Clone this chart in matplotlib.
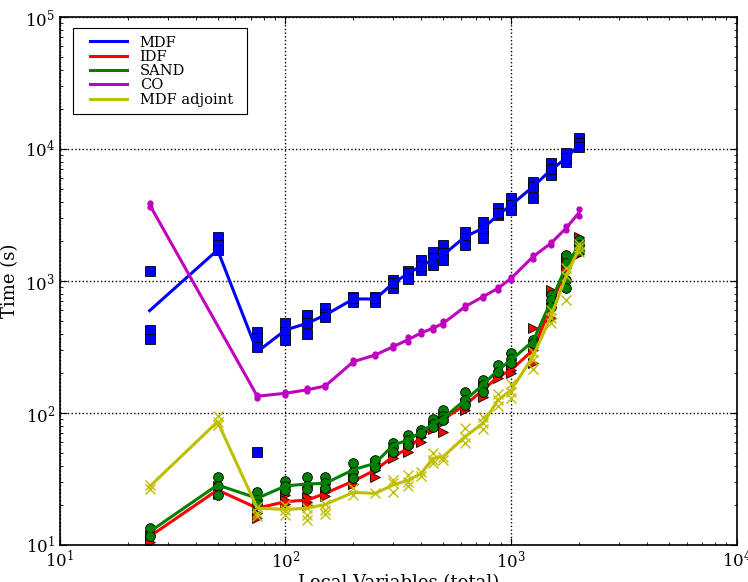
import matplotlib
matplotlib.use("Agg")
import matplotlib.pyplot as plt
from matplotlib.legend_handler import HandlerLine2D
from matplotlib.lines import Line2D
import numpy as np

plt.rcParams['font.family'] = 'DejaVu Serif'
plt.rcParams['mathtext.fontset'] = 'dejavuserif'
plt.rcParams['xtick.direction'] = 'in'
plt.rcParams['ytick.direction'] = 'in'

# local variables (total)
x_all = [25, 50, 75, 100, 125, 150, 200, 250, 300, 350, 400, 450, 500,
         625, 750, 875, 1000, 1250, 1500, 1750, 2000]
x_co = [25, 75, 100, 125, 150, 200, 250, 300, 350, 400, 450, 500,
        625, 750, 875, 1000, 1250, 1500, 1750, 2000]

# mean time (line) per architecture
mdf_mean = [596, 1718, 291, 425, 479, 552, 731, 731, 961, 1143, 1306, 1443, 1574,
            2166, 2508, 3162, 3766, 5176, 6935, 8506, 10720]
idf_mean = [11.6, 26.1, 19, 21.3, 21.9, 24.6, 30.5, 37, 46.7, 54, 66.2, 78.8, 89.6,
            115, 149, 188, 212, 300, 639, 1248, 1820]
sand_mean = [12.6, 28.5, 22.6, 28, 29, 29.3, 37.2, 41.6, 57.2, 62.4, 72.2, 82.6, 91.2,
             125.5, 163, 212, 252, 350, 697, 1283, 1874]
co_mean = [3780, 134, 141, 150, 160, 245, 275, 318, 360, 405, 438, 478,
           639, 760, 881, 1048, 1528, 1931, 2507, 3300]
adj_mean = [27.7, 85.9, 19, 18.6, 19, 20.3, 25, 24.6, 28.5, 31, 34.9, 45.4, 46.7,
            66.2, 83.6, 125.5, 149, 268, 537, 1079, 1770]

# individual runs (markers)
mdf_runs = [[1200, 425, 364], [2140, 1870, 1720], [413, 368, 318, 51], [479, 413, 357],
            [550, 480, 395], [620, 560, 530], [757, 693, 740], [757, 693, 740],
            [1018, 885, 960], [1200, 1140, 1040], [1443, 1212, 1300], [1660, 1493, 1321],
            [1874, 1630, 1443], [2350, 2118, 1874], [2799, 2433, 2118], [3573, 3162, 3300],
            [4253, 3764, 3451], [5623, 5152, 4253], [7834, 6353, 7000], [9330, 7980, 8500],
            [12110, 11100, 10360]]
idf_runs = [[11.8, 10.6], [28, 25, 24.5], [19.5, 17.5, 16], [24, 22, 20.5], [23, 21, 20],
            [25, 23.5], [33, 31, 29], [42, 37, 33], [45.5, 48], [55.5, 50.9], [66, 60],
            [80, 76], [95, 85, 72], [120, 105], [160, 150, 132], [195, 183],
            [225, 212, 200], [438, 300, 240], [855, 640, 520], [1490, 1250, 1000],
            [2170, 1870, 1600]]
sand_runs = [[13.4, 11.6], [32.9, 28, 23.9], [25.3, 21.9, 20.6], [30.5, 28, 26.1],
             [32.7, 27.8, 26.5], [32.9, 29.5, 26.8], [41.6, 35.9, 32], [44, 39.1],
             [59.6, 55, 50.9], [68.1, 62, 57.2], [74.3, 70.5], [89.6, 82, 77.9],
             [105, 95, 88.5], [145, 125.5, 115], [178, 163, 145], [231, 205.5],
             [283, 255, 238], [357, 340], [783, 718, 639], [1574, 1361, 1018, 881],
             [2045, 1874, 1700]]
co_runs = [[3880, 3660], [138, 131], [145, 137], [155, 146], [164, 157], [250, 240],
           [280, 270], [330, 308], [375, 345], [415, 395], [448, 428], [495, 462],
           [655, 625], [775, 745], [905, 860], [1070, 1025], [1580, 1480], [1990, 1880],
           [2600, 2420], [3500, 3100]]
adj_runs = [[28.5, 26.5], [95, 86, 81], [19.5, 17.5, 16.5], [20, 18.5, 17], [19, 17, 15.5],
            [20.5, 18.5, 17.3], [27, 24], [24.6], [29.5, 25.4, 31], [34, 30.2, 28],
            [36, 33.5], [50, 44.4, 42], [46.7, 44], [77, 59.4, 66], [94, 83.6, 76],
            [140, 125.5, 112], [145, 129, 165], [290, 252, 215], [520, 480, 600],
            [1100, 718, 1250], [1800, 1650, 1900]]

series = [
    ("MDF", x_all, mdf_mean, mdf_runs, (0, 0, 1), 's', 6.5, 'k'),
    ("IDF", x_all, idf_mean, idf_runs, (1, 0, 0), '>', 7, 'k'),
    ("SAND", x_all, sand_mean, sand_runs, (0, 0.5, 0), 'o', 7, 'k'),
    ("CO", x_co, co_mean, co_runs, (0.75, 0, 0.75), 'o', 3.5, None),
    ("MDF adjoint", x_all, adj_mean, adj_runs, (0.75, 0.75, 0), 'x', 7, None),
]


class PaddedLine(HandlerLine2D):
    # leaves a gap in front of the legend line like the old legend did
    def create_artists(self, legend, orig, xdescent, ydescent, width, height,
                       fontsize, trans):
        pad = 0.7 * fontsize
        return super().create_artists(legend, orig, xdescent - pad, ydescent,
                                      width - pad, height, fontsize, trans)


fig = plt.figure(figsize=(7.48, 5.82), dpi=100)
ax = fig.add_axes([0.080, 0.0636, 0.905, 0.9072])

for name, xs, mean, runs, col, mk, ms, edge in series:
    px = []
    py = []
    for xv, r in zip(xs, runs):
        px += [xv] * len(r)
        py += r
    ax.plot(px, py, linestyle='none', marker=mk, color=col, markersize=ms,
            markeredgecolor=edge if edge else col, markeredgewidth=0.6 if edge else 1.0)
    ax.plot(xs, mean, color=col, linewidth=2.2, label=name)

ax.set_xscale('log')
ax.set_yscale('log')
ax.set_xlim(10, 1e4)
ax.set_ylim(10, 1e5)
ax.grid(True, which='major', color='k', linestyle=':', linewidth=1)
ax.tick_params(which='both', top=True, right=True, labelsize=12)
ax.tick_params(which='major', length=5)
ax.tick_params(which='minor', length=2.5)
for s in ax.spines.values():
    s.set_linewidth(1.2)

ax.set_xlabel("Local Variables (total)", fontsize=13, labelpad=2)
ax.set_ylabel("Time (s)", fontsize=13)

leg = ax.legend(loc='upper left', bbox_to_anchor=(0.0188, 0.90, 0.2579, 0.0786),
                mode='expand', borderaxespad=0, fontsize=10.5, fancybox=False,
                framealpha=1, edgecolor='k', handlelength=3.2, handletextpad=0.9,
                labelspacing=0.02, borderpad=0.5,
                handler_map={Line2D: PaddedLine()})
leg.get_frame().set_linewidth(0.8)

fig.savefig("out.png", dpi=100)
